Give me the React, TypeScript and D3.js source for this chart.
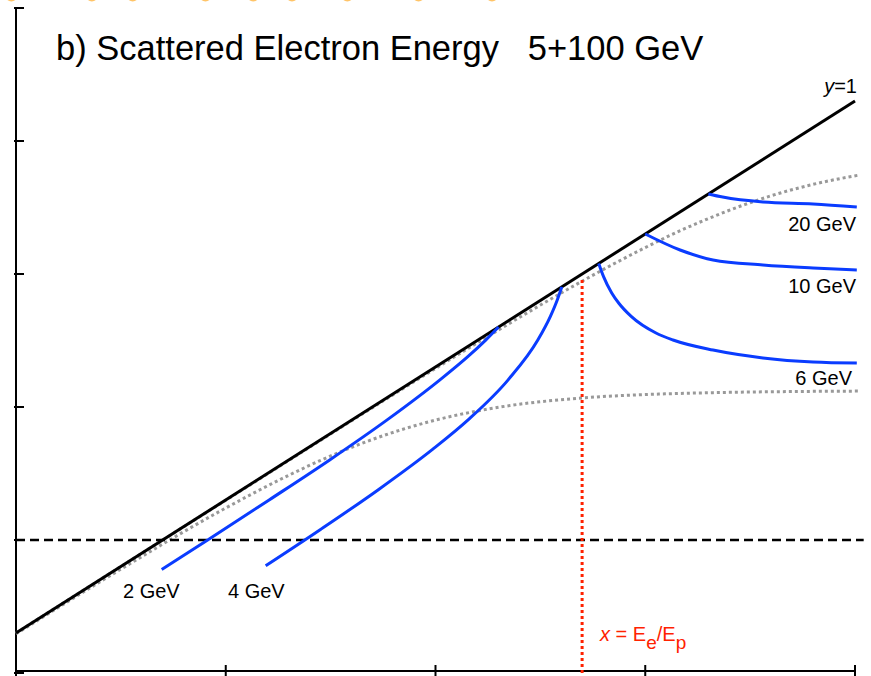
import React from "react";
import * as d3 from "d3";

const WIDTH = 871;
const HEIGHT = 676;

// Decade tick positions (Bjorken x and Q² in GeV²)
const xTicks = [1e-4, 1e-3, 1e-2, 1e-1, 1];
const q2Ticks = [1e-1, 1, 10, 100, 1000, 10000];

// Kinematic limit y = 1 for 5 GeV electrons on 100 GeV protons (s = 2000 GeV²)
const yOneLine: [number, number][] = [
  [1e-4, 0.2],
  [1, 2000],
];

// Q² = 1 GeV² reference
const q2Cut = 1;
const q2CutXRange = [1e-4, 1.1];

// x = Ee/Ep marker
const xRatio = 0.05;
const xRatioQ2Range = [0.1, 90];

// Constant-angle contours of the scattered electron
const angleUpper: [number, number][] = [
  [1e-4, 0.2], [1e-3, 1.99], [0.01, 19.5], [0.02, 38], [0.03, 55.6],
  [0.05, 88.3], [0.07, 118], [0.1, 158], [0.15, 215], [0.2, 261],
  [0.3, 334], [0.5, 430], [0.7, 490], [1.05, 555],
];
const angleLower: [number, number][] = [
  [1e-4, 0.197], [3e-4, 0.574], [1e-3, 1.74], [2e-3, 3.07], [3e-3, 4.13],
  [5e-3, 5.7], [0.01, 7.97], [0.02, 9.95], [0.05, 11.7], [0.1, 12.4],
  [0.2, 12.8], [0.5, 13.07], [1.05, 13.17],
];

// Scattered-electron energy contours
const energy2: [number, number][] = [
  [4.95e-4, 0.6], [8.2e-4, 1.0], [1.61e-3, 2.0], [3.13e-3, 4.0],
  [5.88e-3, 8.0], [0.0105, 16], [0.0143, 24], [0.0174, 32], [0.02, 40],
];
const energy4: [number, number][] = [
  [1.55e-3, 0.64], [2.83e-3, 1.2], [5.36e-3, 2.4], [9.68e-3, 4.8],
  [0.0143, 8], [0.0222, 16], [0.0308, 32], [0.0353, 48], [0.0381, 64], [0.04, 80],
];
const energy6: [number, number][] = [
  [0.06, 120], [0.0632, 96], [0.0692, 72], [0.075, 60], [0.0857, 48],
  [0.1125, 36], [0.1356, 31.9], [0.2104, 26.8], [0.364, 23.4], [0.631, 21.8], [1.02, 21.4],
];
const energy10: [number, number][] = [
  [0.1, 200], [0.1466, 151.5], [0.2104, 127.4], [0.364, 116.9],
  [0.631, 110.9], [1.02, 107.2],
];
const energy20: [number, number][] = [
  [0.2, 400], [0.234, 379], [0.364, 348], [0.631, 336], [1.02, 319],
];

const energyCurves = [energy2, energy4, energy6, energy10, energy20];

const energyLabels = [
  { text: "2 GeV", x: 123, y: 598, anchor: "start" },
  { text: "4 GeV", x: 228, y: 598, anchor: "start" },
  { text: "6 GeV", x: 852, y: 385, anchor: "end" },
  { text: "10 GeV", x: 856, y: 293, anchor: "end" },
  { text: "20 GeV", x: 856, y: 231, anchor: "end" },
];

// Markers of the neighbouring panel above, just reaching the top edge
const topMarkerX = [9.5e-5, 2.3e-4, 3.6e-4, 8.0e-4, 1.35e-3, 2.07e-3, 3.8e-3, 8.3e-3, 1.86e-2];

const FONT = "'Liberation Sans', Arial, Helvetica, sans-serif";

export default function App() {
  const xScale = d3.scaleLog().domain([1e-4, 1]).range([16, 855]);
  const yScale = d3.scaleLog().domain([0.1, 1e4]).range([673, 8]);

  const line = d3
    .line<[number, number]>()
    .x((d) => xScale(d[0]))
    .y((d) => yScale(d[1]))
    .curve(d3.curveMonotoneX);

  const straight = d3
    .line<[number, number]>()
    .x((d) => xScale(d[0]))
    .y((d) => yScale(d[1]));

  const axisY = 671;
  const axisX = 16;

  return (
    <svg
      width={WIDTH}
      height={HEIGHT}
      style={{ position: "absolute", left: 0, top: 0, background: "#fff" }}
      fontFamily={FONT}
    >
      <rect x={0} y={0} width={WIDTH} height={HEIGHT} fill="#fff" />

      {/* markers of the panel above */}
      {topMarkerX.map((x, i) => (
        <circle key={i} cx={xScale(x)} cy={-4.5} r={6} fill="#ffc468" />
      ))}

      {/* axes */}
      <line x1={axisX} x2={axisX} y1={8} y2={HEIGHT} stroke="#000" strokeWidth={2} />
      {q2Ticks.map((q) => (
        <line key={q} x1={axisX - 2} x2={axisX + 8} y1={yScale(q)} y2={yScale(q)} stroke="#000" strokeWidth={2} />
      ))}
      <line x1={axisX} x2={xScale(1) + 1} y1={axisY} y2={axisY} stroke="#000" strokeWidth={2} />
      {xTicks.map((x) => (
        <line key={x} x1={xScale(x)} x2={xScale(x)} y1={axisY - 6} y2={axisY + 6} stroke="#000" strokeWidth={2} />
      ))}

      {/* constant-angle contours */}
      {[angleUpper, angleLower].map((pts, i) => (
        <path key={i} d={line(pts) || ""} fill="none" stroke="#999" strokeWidth={3} strokeDasharray="3,3" />
      ))}

      {/* Q² = 1 GeV² */}
      <line
        x1={xScale(q2CutXRange[0])}
        x2={xScale(q2CutXRange[1])}
        y1={yScale(q2Cut)}
        y2={yScale(q2Cut)}
        stroke="#000"
        strokeWidth={2.5}
        strokeDasharray="9,5"
      />

      {/* y = 1 */}
      <path d={straight(yOneLine) || ""} fill="none" stroke="#000" strokeWidth={3} />

      {/* scattered electron energy */}
      {energyCurves.map((pts, i) => (
        <path key={i} d={line(pts) || ""} fill="none" stroke="#0a3cff" strokeWidth={3} strokeLinecap="butt" />
      ))}

      {/* x = Ee/Ep */}
      <line
        x1={xScale(xRatio)}
        x2={xScale(xRatio)}
        y1={yScale(xRatioQ2Range[1])}
        y2={yScale(xRatioQ2Range[0])}
        stroke="#ff2200"
        strokeWidth={3}
        strokeDasharray="3,3"
      />

      {/* labels */}
      <text x={56} y={60} fontSize={34.5} fill="#000" style={{ whiteSpace: "pre" }}>
        {"b) Scattered Electron Energy   5+100 GeV"}
      </text>
      <text x={857} y={93} fontSize={20} textAnchor="end" fill="#000">
        <tspan fontStyle="italic">y</tspan>
        <tspan>=1</tspan>
      </text>
      {energyLabels.map((l) => (
        <text key={l.text} x={l.x} y={l.y} fontSize={20} textAnchor={l.anchor as any} fill="#000">
          {l.text}
        </text>
      ))}
      <text x={600} y={641} fontSize={20} fill="#ff2200" style={{ whiteSpace: "pre" }}>
        <tspan fontStyle="italic">x</tspan>
        <tspan>{" = E"}</tspan>
        <tspan fontSize={19} dy={8}>e</tspan>
        <tspan dy={-8}>/E</tspan>
        <tspan fontSize={19} dy={8}>p</tspan>
      </text>
    </svg>
  );
}
